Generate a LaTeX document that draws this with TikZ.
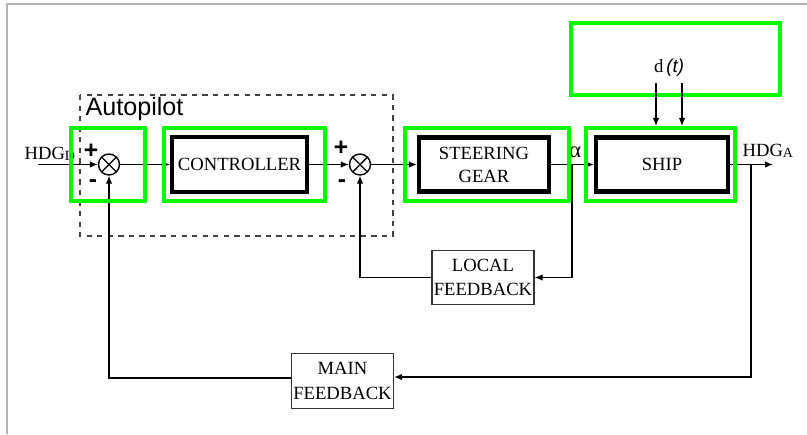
\documentclass[tikz,border=0pt]{standalone}
\usepackage{fontspec}
\setmainfont{Liberation Serif}
\setsansfont{Liberation Sans}
\usetikzlibrary{arrows.meta,calc}

\tikzset{
  block/.style={draw, line width=2.4pt, align=center, font=\fontsize{10.6}{13}\selectfont},
  fbblock/.style={draw=black!80, line width=0.8pt, align=center, inner sep=1pt, font=\fontsize{10.6}{14}\selectfont},
  junction/.style={draw, circle, line width=0.8pt, minimum size=0.42cm, inner sep=0pt,
    path picture={\draw[line width=0.8pt] (path picture bounding box.north west) -- (path picture bounding box.south east)
      (path picture bounding box.north east) -- (path picture bounding box.south west);}},
  sign/.style={font=\sffamily\bfseries\fontsize{14}{14}\selectfont, inner sep=0pt},
  zone/.style={draw=green, line width=2.3pt, inner sep=0pt},
  lbl/.style={font=\fontsize{10.6}{13}\selectfont, inner sep=0pt}
}

\begin{document}
\begin{tikzpicture}[>={Latex[length=1.6mm,width=1.3mm]}, line width=0.7pt]
\useasboundingbox (0,0) rectangle (16.14,8.68);

% page frame
\draw[gray!60, line width=0.9pt] (0.14,0) -- (0.14,8.60) -- (16.14,8.60);

% Autopilot
\draw[dashed, black!75] (1.60,6.78) rectangle (7.86,3.96);
\node[anchor=base west, font=\sffamily\fontsize{14.3}{16}\selectfont, inner sep=0pt] (aplabel) at (1.70,6.38) {Autopilot};

% Summing points
\node[junction] (sum1) at (2.18,5.39) {};
\node[junction] (sum2) at (7.20,5.39) {};
\node[sign] (p1) at (1.82,5.66) {+};
\node[sign] (m1) at (1.86,5.00) {-};
\node[sign] (p2) at (6.82,5.72) {+};
\node[sign] (m2) at (6.84,5.00) {-};

% Blocks
\node[block, minimum width=2.62cm, minimum height=1.10cm] (ctrl) at (4.79,5.39) {CONTROLLER};
\node[block, minimum width=2.60cm, minimum height=1.08cm] (steer) at (9.68,5.39) {STEERING\\GEAR};
\node[block, minimum width=2.64cm, minimum height=1.08cm] (ship) at (13.24,5.39) {SHIP};
\node[fbblock, minimum width=1.97cm, minimum height=1.07cm] (localfb) at (9.66,3.13) {LOCAL\\FEEDBACK};
\node[fbblock, minimum width=1.95cm, minimum height=1.09cm] (mainfb) at (6.85,1.06) {MAIN\\FEEDBACK};

% Labels
\node[lbl, anchor=base west] (hdgd) at (0.48,5.50) {HDG\raisebox{-0.2ex}{\fontsize{8}{8}\selectfont D}};
\node[lbl, anchor=base west] (hdga) at (14.84,5.56) {HDG\raisebox{-0.2ex}{\fontsize{8}{8}\selectfont A}};
\node[lbl, font=\fontsize{13}{13}\selectfont] (alpha) at (11.50,5.64) {α};
\node[lbl] (dist) at (13.38,7.32) {d\,{\sffamily\itshape(t)}};

% Points
\coordinate (in) at (0.76,5.39);
\coordinate (out) at (15.46,5.39);
\coordinate (tap1) at (11.44,5.39);
\coordinate (tap2) at (15.02,5.39);
\coordinate (d1) at (13.12,7.02);
\coordinate (d2) at (13.64,7.02);

% Forward path
\draw[->] (in) -- (sum1);
\draw[->] (sum1) -- (ctrl);
\draw[->] (ctrl) -- (sum2);
\draw[->] (sum2) -- (steer);
\draw[->] (steer) -- (ship);
\draw[->] (ship) -- (out);

% Feedback loops
\draw[->] (tap1) |- (localfb);
\draw[->] (localfb) -| (sum2);
\draw[->] (tap2) |- ([yshift=0.08cm]mainfb.east);
\draw[->] ([yshift=0.06cm]mainfb.west) -| (sum1);

% Highlights
\node[zone, minimum width=1.48cm, minimum height=1.46cm] (z1) at (2.16,5.39) {};
\node[zone, minimum width=3.22cm, minimum height=1.46cm] (z2) at (4.89,5.39) {};
\node[zone, minimum width=3.28cm, minimum height=1.46cm] (z3) at (9.74,5.39) {};
\node[zone, minimum width=2.98cm, minimum height=1.46cm] (z4) at (13.21,5.39) {};
\node[zone, minimum width=4.18cm, minimum height=1.44cm] (z5) at (13.51,7.50) {};

% Disturbance
\draw[->] (d1) -- (d1 |- z4.north);
\draw[->] (d2) -- (d2 |- z4.north);
\end{tikzpicture}
\end{document}
